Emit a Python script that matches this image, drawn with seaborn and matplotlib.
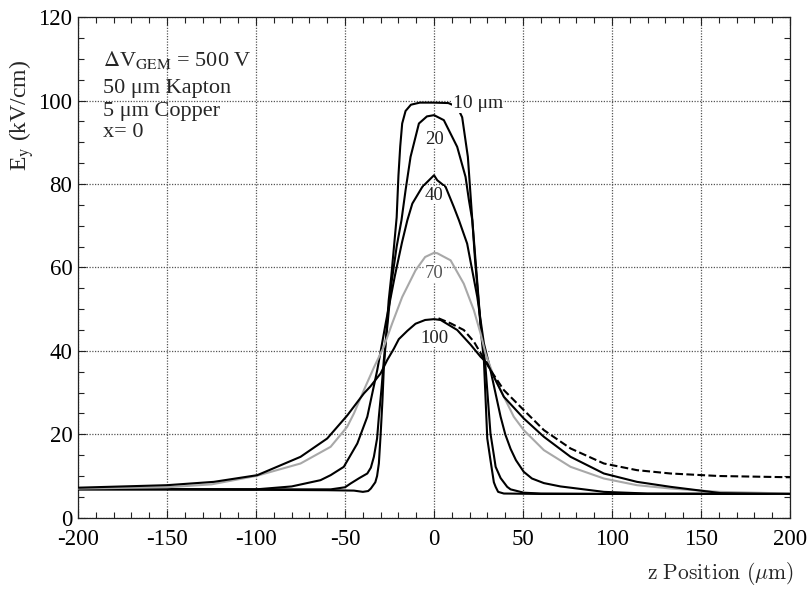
import numpy as np
import pandas as pd
import matplotlib
matplotlib.use("Agg")
import matplotlib.pyplot as plt
from matplotlib.ticker import MultipleLocator
import seaborn as sns

# ---- data (z position in um, E_y in kV/cm) ----
z10 = [-200, -150, -100, -60, -45, -40, -37, -35.5, -33, -32, -31, -30, -29, -28.2, -27, -25.5, -24, -22.5,
       -21, -20, -19, -17.9, -16, -13, -8, 0, 8, 13, 15.8, 19, 21.5, 23, 25, 26.5, 28, 29, 29.9, 31.7, 33.6,
       34.6, 36, 39.2, 60, 100, 150, 200]
e10 = [6.8, 6.8, 6.7, 6.6, 6.5, 6.2, 6.4, 7.0, 8.5, 10, 13, 20, 28, 36, 43, 52, 58, 65,
       72, 82, 89, 94.5, 97.5, 99, 99.5, 99.5, 99.4, 98.5, 96, 86.5, 71.3, 62, 52, 44, 37.8, 28, 19, 13.8, 8.5,
       7.4, 6.2, 5.8, 5.7, 5.7, 5.7, 5.7]

z20 = [-200, -100, -70, -58, -50, -46.9, -42, -37.5, -35.5, -33.8, -32, -31, -29.5, -28.2, -26, -24, -21,
       -18.3, -16, -13.2, -8.5, -4, 0, 5.5, 13, 17.7, 19.6, 21.5, 24, 26, 28.9, 31.7, 33.6, 34.6, 37.4,
       41.1, 43, 50.4, 60, 100, 200]
e20 = [6.9, 6.8, 6.8, 6.8, 7.3, 8.2, 9.5, 10.6, 12, 14.6, 19, 24.2, 31, 37.8, 47, 56, 65,
       71.3, 78.5, 86.5, 94.5, 96.2, 96.5, 95.3, 88.9, 81.7, 76.1, 71.3, 58, 47, 36.2, 20.2, 15, 12.2, 9.5,
       7.4, 6.8, 6.0, 5.8, 5.7, 5.7]

z40 = [-200, -150, -100, -80, -63.8, -58.1, -50.7, -43.1, -37.5, -31.9, -27, -22, -18, -15, -12.2, -6.6,
       0, 1.8, 6.5, 11.1, 14, 18.6, 24.3, 28, 31.7, 37.4, 40, 43, 46, 50.4, 55, 61.7, 71, 76.7,
       95.4, 120, 200]
e40 = [6.8, 6.8, 6.8, 7.5, 9.0, 10.2, 12.2, 17.8, 24.2, 35.4, 47, 58, 66, 71.3, 75.3, 79.3,
       82.1, 80.9, 79.3, 74.5, 71.3, 65.7, 52.9, 41.8, 35.4, 24.2, 20, 16.5, 13.8, 11, 9.4, 8.3, 7.5, 7.2,
       6.2, 5.8, 5.7]

z70 = [-200, -150, -125, -112.5, -100, -75, -58.1, -48.8, -45, -39.4, -33.8, -28.2, -23.5, -17.9, -10.4,
       -5, 0, 1.8, 9.3, 16.7, 22.4, 26.1, 28.9, 33.6, 41.1, 44.8, 50.4, 61.7, 76.7, 95.4, 114, 132.9,
       160, 200]
e70 = [7.0, 7.3, 8.0, 9.0, 10.0, 13.0, 17.0, 21.8, 25, 30.6, 36, 41, 46.6, 52.9, 59.3,
       62.5, 63.5, 63.4, 61.7, 56.1, 49.7, 44.2, 39.4, 33.8, 27.4, 24.2, 21, 16.2, 12.2, 9.4, 7.8, 7.0,
       6.2, 5.8]

z100 = [-200, -150, -123.7, -99.3, -75, -60, -48.8, -39.4, -35.7, -30, -26.3, -22.6, -19.8, -15, -10.4,
        -5, 0, 3.7, 13, 20.5, 26.1, 29.9, 39.2, 50.4, 61.7, 76.7, 95.4, 114, 132.9, 161, 200]
e100 = [7.2, 7.8, 8.6, 10.2, 14.6, 19, 24.5, 29.8, 31.5, 34.6, 37.8, 40.5, 42.8, 44.8, 46.5,
        47.4, 47.6, 47.4, 45, 41.5, 38.6, 37, 29, 23.8, 19.4, 14.6, 10.6, 8.6, 7.4, 5.9, 5.7]

z100d = [2.5, 9.3, 16.7, 22.4, 31.7, 39.2, 50.4, 61.7, 76.7, 95.4, 114, 132.9, 160, 200]
e100d = [47.8, 46.6, 45, 42.2, 35.4, 30.6, 25.8, 21, 16.6, 13, 11.4, 10.6, 10.0, 9.7]

curve_labels = ["10 \u03bcm", "20", "40", "70", "100"]
label_pos = [(10.5, 99.2), (0, 90.7), (0, 77.3), (0, 58.6), (0, 43.0)]

# ---- style ----
sns.set_style("ticks")
plt.rcParams["font.family"] = ["Liberation Serif", "DejaVu Serif"]
plt.rcParams["mathtext.fontset"] = "stix"
plt.rcParams["axes.unicode_minus"] = False
plt.rcParams["xtick.direction"] = "in"
plt.rcParams["ytick.direction"] = "in"

fig = plt.figure(figsize=(8.07, 5.90), dpi=100)
ax = fig.add_axes([0.0967, 0.1225, 0.8823, 0.8485])

series = [
    (z10, e10, "black", "-"),
    (z20, e20, "black", "-"),
    (z40, e40, "black", "-"),
    (z70, e70, "#a8a8a8", "-"),
    (z100, e100, "black", "-"),
    (z100d, e100d, "black", "--"),
]
for zz, ee, col, ls in series:
    df = pd.DataFrame({"z": zz, "E": ee})
    sns.lineplot(data=df, x="z", y="E", ax=ax, color=col, linestyle=ls,
                 linewidth=1.5, sort=True, estimator=None, zorder=3,
                 dashes=(4, 3) if ls == "--" else None)

ax.set_xlim(-200, 200)
ax.set_ylim(0, 120)
ax.xaxis.set_major_locator(MultipleLocator(50))
ax.xaxis.set_minor_locator(MultipleLocator(10))
ax.yaxis.set_major_locator(MultipleLocator(20))
ax.yaxis.set_minor_locator(MultipleLocator(5))
ax.tick_params(which="both", top=True, right=True, direction="in", width=0.8, colors="#222222")
ax.tick_params(which="major", length=6, labelsize=16.5, labelcolor="black")
ax.tick_params(which="minor", length=4)
ax.tick_params(axis="x", pad=8)
ax.tick_params(axis="y", pad=4)
ax.grid(True, which="major", linestyle=(0, (1, 1.2)), linewidth=0.9, color="#555555", zorder=1)
ax.set_axisbelow(True)
for s in ax.spines.values():
    s.set_linewidth(0.9)
    s.set_color("#222222")

ax.set_xlabel("")
ax.set_ylabel("")
fig.text(22 / 807, 0.805, r"E$_{\rm y}$ (kV/cm)", rotation=90, ha="center", va="center", fontsize=17)

fig.text(0.983, 0.018, r"$\mathrm{z\ Position\ (\mu m)}$", ha="right", va="baseline",
         fontsize=15.5, math_fontfamily="cm")

# annotations
ax.text(-186, 108.4, r"$\Delta$V$_{\rm GEM}$ = 500 V", fontsize=16, va="baseline", ha="left")
ax.text(-186, 101.7, "50 \u03bcm Kapton", fontsize=16, va="baseline", ha="left")
ax.text(-186, 96.4, "5 \u03bcm Copper", fontsize=16, va="baseline", ha="left")
ax.text(-186, 91.2, "x= 0", fontsize=16, va="baseline", ha="left")

for i, (lab, (lx, ly)) in enumerate(zip(curve_labels, label_pos)):
    ax.text(lx, ly, lab, fontsize=14 if i == 0 else 13.5,
            ha="left" if i == 0 else "center", va="center", zorder=4,
            color="#222222" if i != 3 else "#555555",
            bbox=dict(facecolor="white", edgecolor="none", pad=0.3))

fig.savefig("out.png", dpi=100)
